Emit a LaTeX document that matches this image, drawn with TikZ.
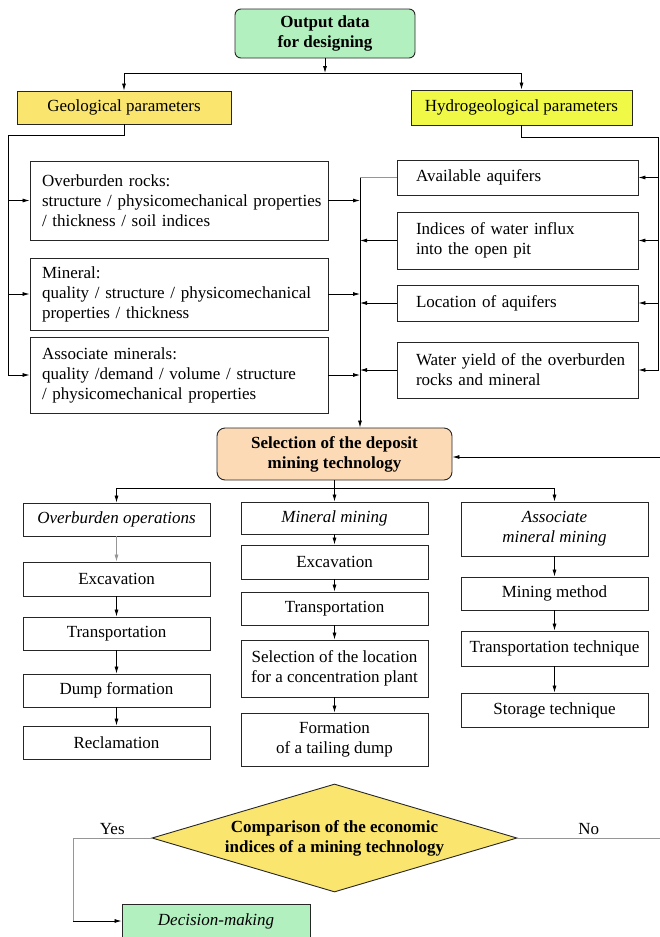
\documentclass[tikz,border=0pt]{standalone}
\usepackage{fontspec}
\setmainfont{Liberation Serif}
\usetikzlibrary{arrows.meta, shapes.geometric, positioning, calc}
\definecolor{datagreen} {RGB}{179, 240, 192}
\definecolor{geoyellow} {RGB}{250, 230, 110}
\definecolor{hydyellow} {RGB}{240, 250,  70}
\definecolor{techpeach} {RGB}{253, 218, 182}
\definecolor{linegray}  {RGB}{150, 150, 150}
\newcommand{\figsize}{\fontsize{17}{20}\selectfont}
\tikzset{
	blk/.style={draw=black!85, line width=0.9pt, minimum height=34pt, inner xsep=4pt, inner ysep=2pt, align=center},
	lbox/.style={blk, align=left, text width=274pt, inner xsep=12pt},
	rbox/.style={blk, align=left, text width=203pt, inner xsep=19pt},
	cbox/.style={blk, minimum width=187pt},
	hdr/.style={cbox, font=\figsize\itshape},
	arr/.style={-{Latex[length=7pt,width=4pt]}, line width=0.8pt},
	wire/.style={line width=0.8pt},
	pale/.style={draw=linegray, line width=0.6pt}
}

\begin{document}
\begin{tikzpicture}[x=1pt, y=-1pt, font=\figsize]
				\useasboundingbox (0,0) rectangle (660,937);
				\node[blk, fill=datagreen, rounded corners=6pt, minimum width=180pt, minimum height=49pt, font=\figsize\bfseries] (out) at (325,33.5) {Output data\\for designing};
				\node[blk, fill=geoyellow, minimum width=214pt, minimum height=33pt] (geo) at (124,107.5) {Geological parameters};
				\node[blk, fill=hydyellow, minimum width=221pt, minimum height=35pt] (hyd) at (521.5,107.5) {Hydrogeological parameters};
				\node[lbox, minimum height=79pt] (ovb) at (179,200.5) {Overburden rocks:\\\mbox{structure / physicomechanical properties}\\/ thickness / soil indices};
				\node[lbox, minimum height=72pt] (min) at (179,294) {Mineral:\\\mbox{quality / structure / physicomechanical}\\properties / thickness};
				\node[lbox, minimum height=76pt] (asm) at (179,375) {Associate minerals:\\\mbox{quality /demand / volume / structure}\\/ physicomechanical properties};
				\node[rbox, minimum height=35pt] (aq) at (517.5,177.5) {Available aquifers};
				\node[rbox, minimum height=57pt] (ind) at (517.5,240.5) {Indices of water influx\\into the open pit};
				\node[rbox, minimum height=36pt] (loc) at (517.5,303) {Location of aquifers};
				\node[rbox, minimum height=56pt] (wy) at (517.5,370) {\mbox{Water yield of the overburden}\\rocks and mineral};
				\node[blk, fill=techpeach, rounded corners=8pt, minimum width=235pt, minimum height=52pt, font=\figsize\bfseries] (sel) at (334.5,454) {Selection of the deposit\\mining technology};
				\node[hdr, minimum height=33pt] (ovop) at (116.5,519.5) {Overburden operations};
				\node[cbox] (ex1) at (116.5,579) {Excavation};
				\node[cbox, minimum height=33pt] (tr1) at (116.5,633.5) {Transportation};
				\node[cbox, minimum height=33pt] (df1) at (116.5,690.5) {Dump formation};
				\node[cbox, minimum height=33pt] (rc1) at (116.5,742.5) {Reclamation};
				\node[hdr, minimum height=32pt] (mm) at (334.5,518) {Mineral mining};
				\node[cbox] (ex2) at (334.5,562) {Excavation};
				\node[cbox, minimum height=33pt] (tr2) at (334.5,608.5) {Transportation};
				\node[cbox, minimum height=57pt] (sl2) at (334.5,668.5) {Selection of the location\\for a concentration plant};
				\node[cbox, minimum height=53pt] (ft2) at (334.5,739.5) {Formation\\of a tailing dump};
				\node[hdr, minimum height=54pt] (amm) at (554.5,529) {Associate\\mineral mining};
				\node[cbox, minimum height=33pt] (mmth) at (554.5,593.5) {Mining method};
				\node[cbox, minimum height=35pt] (tt3) at (554.5,648.5) {Transportation technique};
				\node[cbox] (st3) at (554.5,710) {Storage technique};
				\node[draw=black!85, line width=0.9pt, fill=geoyellow, diamond, aspect=3.4, inner sep=1pt, minimum width=365pt, minimum height=108pt, align=center, font=\figsize\bfseries] (cmp) at (334.5,838) {Comparison of the economic\\indices of a mining technology};
				\node[blk, fill=datagreen, minimum width=188pt, font=\figsize\itshape] (dec) at (216,921) {Decision-making};
				\coordinate (split) at (325,73);
				\coordinate (lbus) at (8,135);
				\coordinate (rbus) at (658,137);
				\coordinate (mbus) at (360,177.5);
				\coordinate (noin) at (660,457);
				\coordinate (split2) at (334.5,488);
				\coordinate (yesc) at (73,838);
				\coordinate (noc) at (660,838);
				\draw[arr] (out) -- (split);
				\draw[arr] (split) -| (geo);
				\draw[arr] (split) -| (hyd);
				\draw[wire] (geo) |- (lbus);
				\draw[arr] (lbus) |- (ovb);
				\draw[arr] (lbus) |- (min);
				\draw[arr] (lbus) |- (asm);
				\draw[wire] (hyd) |- (rbus);
				\draw[arr] (rbus) |- (aq);
				\draw[arr] (rbus) |- (ind);
				\draw[arr] (rbus) |- (loc);
				\draw[arr] (rbus) |- (wy);
				\draw[pale] (aq) -- (mbus);
				\draw[arr] (mbus) -- (mbus |- sel.north);
				\draw[arr] (ovb) -- (ovb -| mbus);
				\draw[arr] (min) -- (min -| mbus);
				\draw[arr] (asm) -- (asm -| mbus);
				\draw[arr] (ind) -- (ind -| mbus);
				\draw[arr] (loc) -- (loc -| mbus);
				\draw[arr] (wy) -- (wy -| mbus);
				\draw[arr] (noin) -- (noin -| sel.east);
				\draw[arr] (sel) -- (mm);
				\draw[arr] (split2) -| (ovop);
				\draw[arr] (split2) -| (amm);
				\draw[arr, pale] (ovop) -- (ex1);
				\draw[arr] (ex1) -- (tr1);
				\draw[arr] (tr1) -- (df1);
				\draw[arr] (df1) -- (rc1);
				\draw[arr] (mm) -- (ex2);
				\draw[arr] (ex2) -- (tr2);
				\draw[arr] (tr2) -- (sl2);
				\draw[arr] (sl2) -- (ft2);
				\draw[arr] (amm) -- (mmth);
				\draw[arr] (mmth) -- (tt3);
				\draw[arr] (tt3) -- (st3);
				\draw[pale] (cmp.west) -- node[above, text=black] {Yes} (yesc) -- (yesc |- dec);
				\draw[arr] (yesc |- dec) -- (dec);
				\draw[pale] (cmp.east) -- node[above, text=black] {No} (noc);
			\end{tikzpicture}
\end{document}
